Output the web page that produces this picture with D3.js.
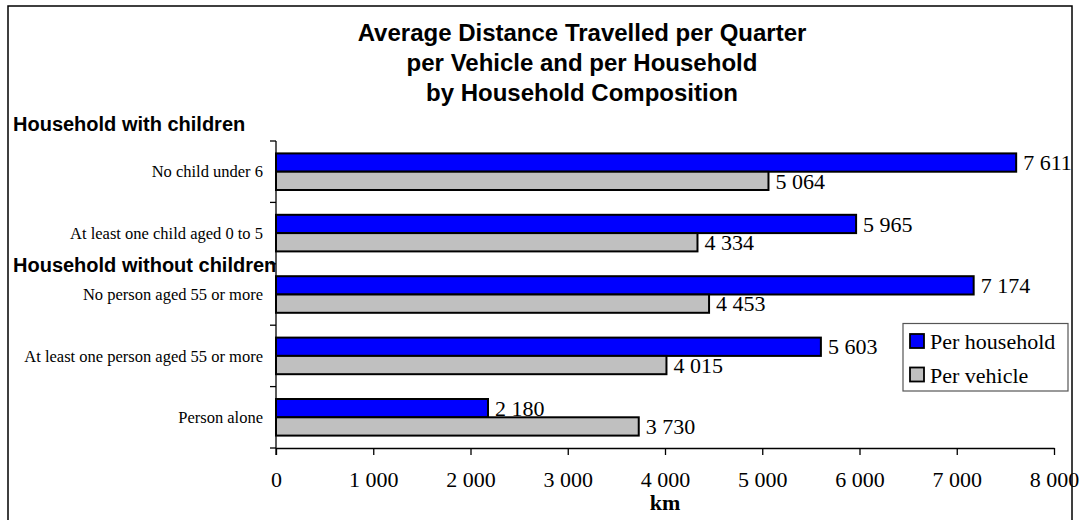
<!DOCTYPE html>
<html>
<head>
<meta charset="utf-8">
<script src="https://cdn.jsdelivr.net/npm/d3@7"></script>
<style>
  html, body { margin: 0; padding: 0; background: #fff; }
  svg { display: block; }
  .serif { font-family: "Liberation Serif", "Times New Roman", serif; }
  .sans { font-family: "Liberation Sans", Arial, sans-serif; }
</style>
</head>
<body>
<svg id="chart" width="1083" height="520"></svg>
<script>
// Household composition categories, top to bottom
const categories = [
  "No child under 6",
  "At least one child aged 0 to 5",
  "No person aged 55 or more",
  "At least one person aged 55 or more",
  "Person alone"
];
const seriesNames = ["Per household", "Per vehicle"];
const perHousehold = [7611, 5965, 7174, 5603, 2180];
const perVehicle = [5064, 4334, 4453, 4015, 3730];
const xTicks = [0, 1000, 2000, 3000, 4000, 5000, 6000, 7000, 8000];
const titleLines = [
  "Average Distance Travelled per Quarter",
  "per Vehicle and per Household",
  "by Household Composition"
];
const groupNames = ["Household with children", "Household without children"];
const groupStarts = [0, 2]; // index of the first category in each group
const axisTitle = "km";

const colors = { "Per household": "#0000ff", "Per vehicle": "#c0c0c0" };

const svg = d3.select("#chart");
const fmt = d3.formatLocale({ decimal: ".", thousands: "\u00a0", grouping: [3], currency: ["", ""] }).format(",d");

// outer frame
svg.append("rect")
  .attr("x", 8).attr("y", 6).attr("width", 1064).attr("height", 530)
  .attr("fill", "none").attr("stroke", "#000").attr("stroke-width", 1.5);

const plot = { left: 276, right: 1054, top: 141, bottom: 448 };

const x = d3.scaleLinear().domain([0, 8000]).range([plot.left, plot.right]);
const y = d3.scaleBand().domain(categories).range([plot.top, plot.bottom]).padding(0);
const ySeries = d3.scaleBand().domain(seriesNames).range([0, y.bandwidth()]).paddingInner(0).paddingOuter(0.678);

const rows = categories.map((c, i) => ({
  cat: c,
  values: [
    { s: "Per household", v: perHousehold[i] },
    { s: "Per vehicle", v: perVehicle[i] }
  ]
}));

// title
svg.append("text")
  .attr("class", "sans")
  .attr("text-anchor", "middle")
  .attr("font-size", 24).attr("font-weight", "bold")
  .selectAll("tspan").data(titleLines).join("tspan")
  .attr("x", 582).attr("y", (d, i) => 41 + i * 30)
  .text(d => d);

// x axis
const xAxis = svg.append("g")
  .attr("transform", `translate(0,${plot.bottom})`)
  .call(d3.axisBottom(x).tickValues(xTicks).tickSize(7).tickSizeOuter(0).tickFormat(fmt));
xAxis.select(".domain").attr("stroke", "#000").attr("stroke-width", 1.3);
xAxis.selectAll(".tick line").attr("stroke", "#000").attr("stroke-width", 1.3);
xAxis.selectAll(".tick text")
  .attr("class", "serif")
  .attr("font-size", 22).attr("fill", "#000")
  .attr("y", 39).attr("dy", null);

svg.append("text")
  .attr("class", "serif")
  .attr("x", (plot.left + plot.right) / 2).attr("y", 510)
  .attr("text-anchor", "middle")
  .attr("font-size", 22).attr("font-weight", "bold")
  .text(axisTitle);

// y axis: line with ticks on category boundaries
const boundaries = categories.map(c => y(c)).concat([plot.bottom]);
svg.append("line")
  .attr("x1", plot.left).attr("x2", plot.left)
  .attr("y1", plot.top).attr("y2", plot.bottom + 7)
  .attr("stroke", "#000").attr("stroke-width", 1.3);
svg.selectAll(".ytick").data(boundaries).join("line")
  .attr("class", "ytick")
  .attr("x1", plot.left - 6).attr("x2", plot.left)
  .attr("y1", d => d).attr("y2", d => d)
  .attr("stroke", "#000").attr("stroke-width", 1.3);

// category labels
svg.selectAll(".catlabel").data(categories).join("text")
  .attr("class", "serif catlabel")
  .attr("x", 263)
  .attr("y", d => y(d) + y.bandwidth() / 2)
  .attr("dy", "0.35em")
  .attr("text-anchor", "end")
  .attr("font-size", 16.5)
  .text(d => d);

// group headings: the first sits above the plot, the second just inside its first band
svg.selectAll(".grouplabel").data(groupNames).join("text")
  .attr("class", "sans grouplabel")
  .attr("x", 13)
  .attr("y", (d, i) => i === 0 ? y(categories[groupStarts[i]]) - 10 : y(categories[groupStarts[i]]) + 8)
  .attr("font-size", 20).attr("font-weight", "bold")
  .text(d => d);

// value labels (drawn under the bars)
const groups = svg.selectAll(".row").data(rows).join("g")
  .attr("class", "row")
  .attr("transform", d => `translate(0,${y(d.cat)})`);

groups.selectAll(".val").data(d => d.values).join("text")
  .attr("class", "serif val")
  .attr("x", d => x(d.v) + 7)
  .attr("y", d => ySeries(d.s) + ySeries.bandwidth() / 2)
  .attr("dy", "0.35em")
  .attr("font-size", 22)
  .text(d => fmt(d.v));

groups.selectAll(".bar").data(d => d.values).join("rect")
  .attr("class", "bar")
  .attr("x", x(0))
  .attr("y", d => ySeries(d.s))
  .attr("width", d => x(d.v) - x(0))
  .attr("height", ySeries.bandwidth())
  .attr("fill", d => colors[d.s])
  .attr("stroke", "#000").attr("stroke-width", 2);

// legend
const legend = svg.append("g");
legend.append("rect")
  .attr("x", 903).attr("y", 323.5).attr("width", 165).attr("height", 67.5)
  .attr("fill", "#fff").attr("stroke", "#555").attr("stroke-width", 1.2);
const items = legend.selectAll(".item").data(seriesNames).join("g")
  .attr("class", "item")
  .attr("transform", (d, i) => `translate(0,${341.5 + i * 33.5})`);
items.append("rect")
  .attr("x", 910).attr("y", -7.5).attr("width", 14).attr("height", 14)
  .attr("fill", d => colors[d]).attr("stroke", "#000").attr("stroke-width", 1.8);
items.append("text")
  .attr("class", "serif")
  .attr("x", 930).attr("y", 0).attr("dy", "0.35em")
  .attr("font-size", 22)
  .text(d => d);
</script>
</body>
</html>
